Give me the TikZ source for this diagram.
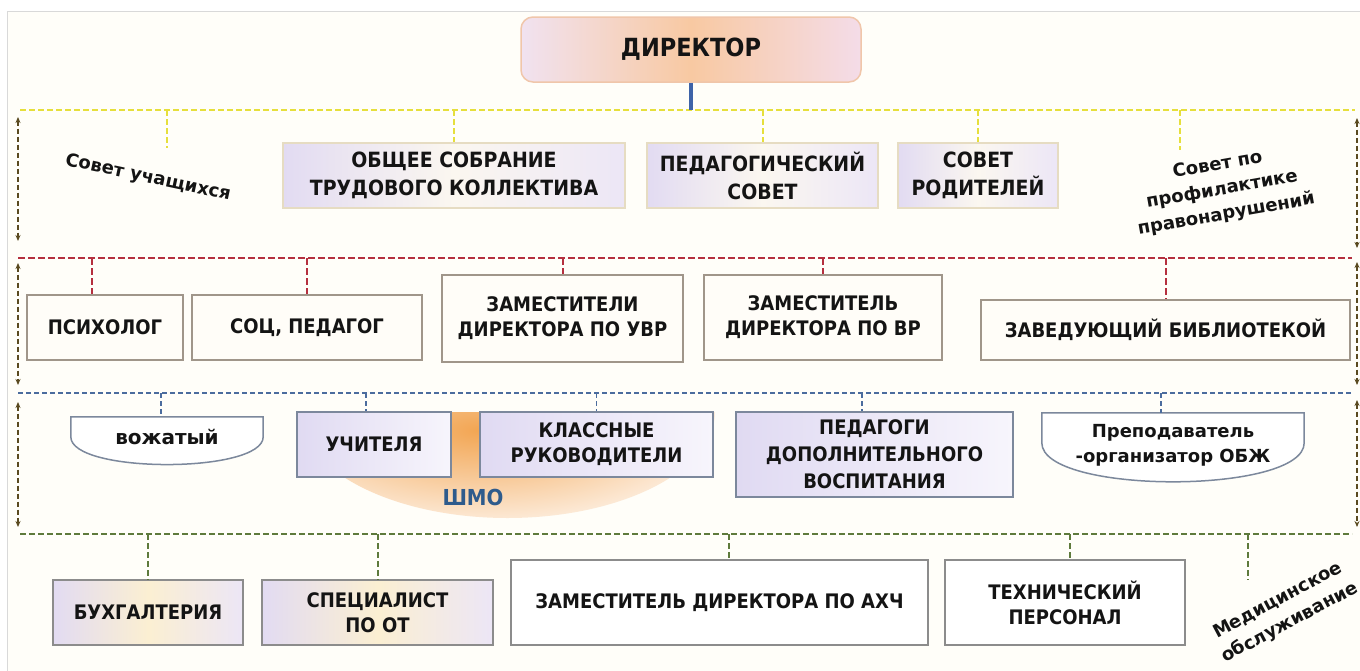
\documentclass[tikz,border=0pt]{standalone}
\usepackage{fontspec}
\setmainfont{DejaVu Sans}
\newfontfamily\cond{DejaVu Sans Condensed}
\usetikzlibrary{arrows.meta,calc}
\definecolor{ink}{HTML}{141414}
\definecolor{pagebg}{HTML}{FFFEF9}
\definecolor{pagebd}{HTML}{D9D9D9}
\definecolor{ycol}{HTML}{E6DF3C}
\definecolor{rcol}{HTML}{B5303F}
\definecolor{bcol}{HTML}{4B6C9E}
\definecolor{gcol}{HTML}{5E7A3C}
\definecolor{acol}{HTML}{5A4A20}
\definecolor{dircol}{HTML}{3E63A8}
\definecolor{dirL}{HTML}{F1E2F0}
\definecolor{dirM}{HTML}{F8C9A2}
\definecolor{dirR}{HTML}{F4DCE8}
\definecolor{dirbd}{HTML}{F0C6AA}
\definecolor{lavA}{HTML}{E2DBF2}
\definecolor{lavB}{HTML}{ECE6F6}
\definecolor{creamM}{HTML}{FBF7F0}
\definecolor{r1bd}{HTML}{E6DCC2}
\definecolor{r2fill}{HTML}{FFFDF8}
\definecolor{r2bd}{HTML}{A0968A}
\definecolor{r3L}{HTML}{E0DAF2}
\definecolor{r3R}{HTML}{F7F5FC}
\definecolor{r3bd}{HTML}{7C889C}
\definecolor{glow}{HTML}{FBEFD2}
\definecolor{r4bd}{HTML}{8C8C8C}
\definecolor{shmoC}{HTML}{F2A552}
\definecolor{shmoO}{HTML}{FDEDDD}
\definecolor{shmotx}{HTML}{2E5B8C}
\pgfdeclarelayer{back}
\pgfdeclarelayer{mid}
\pgfsetlayers{back,mid,main}
\tikzset{
  txt/.style={font=\cond\bfseries\fontsize{20}{25}\selectfont, text=ink, align=center, inner sep=0pt},
  dirbox/.style={txt, rectangle, rounded corners=12pt, draw=dirbd, line width=1.5pt,
    left color=dirL, right color=dirR, middle color=dirM, font=\cond\bfseries\fontsize{25}{30}\selectfont},
  r1box/.style={txt, rectangle, draw=r1bd, line width=2pt, left color=lavA, right color=lavB, middle color=creamM,
    font=\cond\bfseries\fontsize{21}{28}\selectfont},
  r2box/.style={txt, rectangle, draw=r2bd, line width=1.5pt, fill=r2fill},
  r3box/.style={txt, rectangle, draw=r3bd, line width=1.5pt, left color=r3L, right color=r3R},
  r4glow/.style={txt, rectangle, draw=r4bd, line width=1.5pt, left color=lavA, right color=lavB, middle color=glow},
  r4plain/.style={txt, rectangle, draw=r4bd, line width=1.5pt, fill=white},
  lowtxt/.style={font=\bfseries\fontsize{18}{25}\selectfont, text=ink, align=center, inner sep=0pt},
  capshape/.style={draw=r3bd, line width=1.5pt, fill=white},
  shmotxt/.style={font=\cond\bfseries\fontsize{22}{26}\selectfont, text=shmotx, inner sep=0pt},
  ybus/.style={draw=ycol, line width=2pt, dash pattern=on 6pt off 3pt},
  rbus/.style={draw=rcol, line width=2pt, dash pattern=on 7pt off 3pt},
  bbus/.style={draw=bcol, line width=1.5pt, dash pattern=on 5pt off 3pt},
  gbus/.style={draw=gcol, line width=2pt, dash pattern=on 6pt off 3pt},
  dirln/.style={draw=dircol, line width=4pt},
  sidearr/.style={draw=acol, line width=1.6pt, dash pattern=on 5pt off 3pt,
    {Stealth[length=6pt,width=5pt]}-{Stealth[length=6pt,width=5pt]}}
}
\begin{document}
\begin{tikzpicture}[x=1pt,y=-1pt]
\useasboundingbox (0,0) rectangle (1360,670);
\begin{pgfonlayer}{back}
  \fill[white] (0,0) rectangle (1360,670);
  \draw[draw=pagebd, fill=pagebg, line width=1pt] (7,11) rectangle (1366,676);
\end{pgfonlayer}

% ---------- top ----------
\node[dirbox, minimum width=340pt, minimum height=65pt] (dir) at (691,49.5) {ДИРЕКТОР};

% ---------- row 1 ----------
\node[r1box, minimum width=342pt, minimum height=65pt] (obs) at (454,175.5) {ОБЩЕЕ СОБРАНИЕ\\ТРУДОВОГО КОЛЛЕКТИВА};
\node[r1box, minimum width=231pt, minimum height=65pt] (ped) at (762.5,175.5) {ПЕДАГОГИЧЕСКИЙ\\СОВЕТ};
\node[r1box, minimum width=160pt, minimum height=65pt] (rod) at (978,175.5) {СОВЕТ\\РОДИТЕЛЕЙ};
\node[lowtxt, rotate=-12] (su) at (148,178) {Совет учащихся};
\node[lowtxt, rotate=10] (sp) at (1222,190) {Совет по\\профилактике\\правонарушений};

% ---------- row 2 ----------
\node[r2box, minimum width=156pt, minimum height=65pt] (psy) at (105,327.5) {ПСИХОЛОГ};
\node[r2box, minimum width=230pt, minimum height=65pt] (soc) at (307,327.5) {СОЦ, ПЕДАГОГ};
\node[r2box, minimum width=241pt, minimum height=87pt] (zuvr) at (562.5,318.5) {ЗАМЕСТИТЕЛИ\\ДИРЕКТОРА ПО УВР};
\node[r2box, minimum width=238pt, minimum height=85pt] (zvr) at (823,317.5) {ЗАМЕСТИТЕЛЬ\\ДИРЕКТОРА ПО ВР};
\node[r2box, minimum width=369pt, minimum height=60pt] (lib) at (1165.5,330) {ЗАВЕДУЮЩИЙ БИБЛИОТЕКОЙ};

% ---------- row 3 ----------
\begin{pgfonlayer}{mid}
  \begin{scope}
    \clip (300,412) -- (715,412) .. controls (715,470.5) and (621.5,518) .. (507.5,518)
      .. controls (393.5,518) and (300,470.5) .. (300,412) -- cycle;
    \shade[inner color=shmoC, outer color=shmoO] (240,335) rectangle (720,525);
  \end{scope}
\end{pgfonlayer}
\node[shmotxt] (shmo) at (473,497) {ШМО};
\node[lowtxt, font=\bfseries\fontsize{20}{24}\selectfont, minimum width=192pt, minimum height=40pt] (vozh) at (167,437) {вожатый};
\begin{pgfonlayer}{mid}
  \draw[capshape] (vozh.north west) -- (vozh.north east) -- ($(vozh.north east)+(0,20)$)
    .. controls ($(vozh.north east)+(0,57)$) and ($(vozh.north west)+(0,57)$) .. ($(vozh.north west)+(0,20)$) -- cycle;
\end{pgfonlayer}
\node[r3box, minimum width=154pt, minimum height=65pt] (uch) at (374,444.5) {УЧИТЕЛЯ};
\node[r3box, minimum width=233pt, minimum height=65pt] (kl) at (596.5,444.5) {КЛАССНЫЕ\\РУКОВОДИТЕЛИ};
\node[r3box, font=\cond\bfseries\fontsize{20}{27}\selectfont, minimum width=277pt, minimum height=85pt] (pdo) at (874.5,454.5) {ПЕДАГОГИ\\ДОПОЛНИТЕЛЬНОГО\\ВОСПИТАНИЯ};
\node[lowtxt, minimum width=262pt, minimum height=64pt] (obzh) at (1173,445) {Преподаватель\\-организатор ОБЖ};
\begin{pgfonlayer}{mid}
  \draw[capshape] (obzh.north west) -- (obzh.north east) -- ($(obzh.north east)+(0,30)$)
    .. controls ($(obzh.north east)+(0,82)$) and ($(obzh.north west)+(0,82)$) .. ($(obzh.north west)+(0,30)$) -- cycle;
\end{pgfonlayer}

% ---------- row 4 ----------
\node[r4glow, minimum width=190pt, minimum height=65pt] (buh) at (148,612.5) {БУХГАЛТЕРИЯ};
\node[r4glow, minimum width=231pt, minimum height=65pt] (spec) at (377.5,612.5) {СПЕЦИАЛИСТ\\ПО ОТ};
\node[r4plain, minimum width=417pt, minimum height=85pt] (zaxh) at (719.5,602.5) {ЗАМЕСТИТЕЛЬ ДИРЕКТОРА ПО АХЧ};
\node[r4plain, minimum width=240pt, minimum height=85pt] (tech) at (1065,602.5) {ТЕХНИЧЕСКИЙ\\ПЕРСОНАЛ};
\node[lowtxt, rotate=28] (med) at (1284,612) {Медицинское\\обслуживание};

% ---------- bus coordinates ----------
\coordinate (yL) at (20,110);   \coordinate (yR) at (1355,110);
\coordinate (rL) at (18,258);   \coordinate (rR) at (1352,258);
\coordinate (bL) at (18,393);   \coordinate (bR) at (1352,393);
\coordinate (gL) at (20,534);   \coordinate (gR) at (1352,534);

% yellow
\draw[ybus] (yL) -- (yR);
\draw[dirln] (dir.south) -- (dir.south |- yL);
\coordinate (dsu) at (167,110); \coordinate (dsuE) at (167,148);
\draw[ybus] (dsu) -- (dsuE);
\draw[ybus] (obs.north |- yL) -- (obs.north);
\draw[ybus] (ped.north |- yL) -- (ped.north);
\draw[ybus] (rod.north |- yL) -- (rod.north);
\coordinate (dsp) at (1180,110); \coordinate (dspE) at (1180,150);
\draw[ybus] (dsp) -- (dspE);

% red
\draw[rbus] (rL) -- (rR);
\coordinate (dpsy) at (92,258);
\draw[rbus] (dpsy) -- (dpsy |- psy.north);
\draw[rbus] (soc.north |- rL) -- (soc.north);
\draw[rbus] (zuvr.north |- rL) -- (zuvr.north);
\draw[rbus] (zvr.north |- rL) -- (zvr.north);
\draw[rbus] (lib.north |- rL) -- (lib.north);

% blue
\draw[bbus] (bL) -- (bR);
\coordinate (dvo) at (161,393);  \draw[bbus] (dvo) -- (dvo |- vozh.north);
\coordinate (duch) at (366,393); \draw[bbus] (duch) -- (duch |- uch.north);
\draw[bbus] (kl.north |- bL) -- (kl.north);
\coordinate (dpdo) at (862,393); \draw[bbus] (dpdo) -- (dpdo |- pdo.north);
\coordinate (dob) at (1161,393); \draw[bbus] (dob) -- (dob |- obzh.north);

% green
\draw[gbus] (gL) -- (gR);
\draw[gbus] (buh.north |- gL) -- (buh.north);
\draw[gbus] (spec.north |- gL) -- (spec.north);
\coordinate (dza) at (729,534);  \draw[gbus] (dza) -- (dza |- zaxh.north);
\coordinate (dte) at (1070,534); \draw[gbus] (dte) -- (dte |- tech.north);
\coordinate (dmed) at (1248,534); \coordinate (dmedE) at (1248,580);
\draw[gbus] (dmed) -- (dmedE);

% side double arrows
\coordinate (la1) at (18,117);  \coordinate (lb1) at (18,241);
\coordinate (la2) at (18,263);  \coordinate (lb2) at (18,385);
\coordinate (la3) at (18,402);  \coordinate (lb3) at (18,527);
\coordinate (ra1) at (1357,118); \coordinate (rb1) at (1357,248);
\coordinate (ra2) at (1357,262); \coordinate (rb2) at (1357,385);
\coordinate (ra3) at (1357,400); \coordinate (rb3) at (1357,527);
\draw[sidearr] (la1) -- (lb1);
\draw[sidearr] (la2) -- (lb2);
\draw[sidearr] (la3) -- (lb3);
\draw[sidearr] (ra1) -- (rb1);
\draw[sidearr] (ra2) -- (rb2);
\draw[sidearr] (ra3) -- (rb3);
\end{tikzpicture}
\end{document}
